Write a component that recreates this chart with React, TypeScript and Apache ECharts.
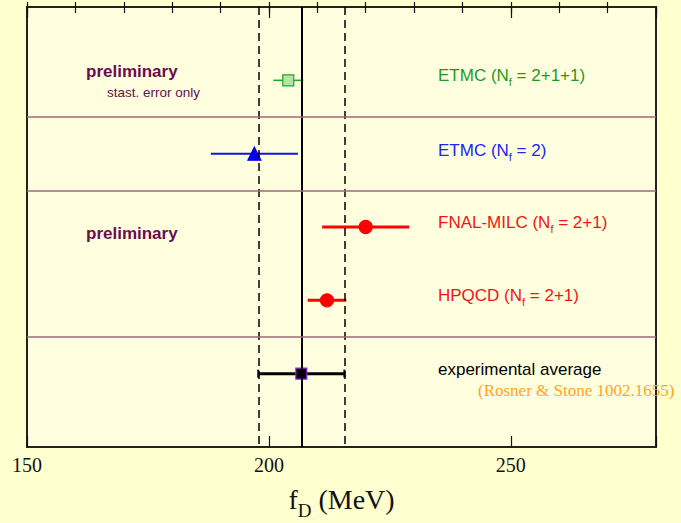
import React, { useEffect, useRef } from "react";
import * as echarts from "echarts";

// ---- data ----
const collaborations = ["ETMC", "ETMC", "FNAL-MILC", "HPQCD", "experimental average"];
const nfValues = ["2+1+1", "2", "2+1", "2+1", ""];
const centralValues = [204.0, 197.0, 220.0, 212.0, 206.7];
const errors = [3.1, 9.0, 9.0, 4.0, 8.9];
const rowPositions = [1, 2, 3, 4, 5];
const separatorRows = [1.5, 2.5, 4.5];
const averageValue = 206.7;
const averageError = 8.9;
const xRange = [150, 280];
const xAxisTitle = ["f", "D", " (MeV)"];
const reference = "(Rosner & Stone 1002.1655)";

// ---- styles (kept apart from the data) ----
const seriesColors = ["#27a127", "#1010f0", "#ff0000", "#ff0000", "#000000"];
const textColors = ["#1e9a1e", "#2323f0", "#f01414", "#f01414", "#000000"];
const barWidths = [1.5, 2, 3, 3, 3];
const hasCaps = [false, false, false, false, true];
const markerSymbols = ["rect", "triangle", "circle", "circle", "rect"];
const markerSizes = [11, 13, 13, 13, 11];
const markerFills = ["#b4e4a8", "#0000ee", "#ff0000", "#ff0000", "#000000"];
const markerBorders = ["#27a127", "#0000ee", "#ff0000", "#ff0000", "#a020e0"];
const labelY = [75.5, 150.5, 222.5, 295.5, 369.5];

const SANS = "Liberation Sans";
const SERIF = "Liberation Serif";

export default function App() {
  const ref = useRef<HTMLDivElement>(null);

  useEffect(() => {
    document.body.style.margin = "0";
    const chart = echarts.init(ref.current!, null, { renderer: "svg" });

    const errorData = centralValues.map((c, i) => [c, c - errors[i], c + errors[i], rowPositions[i]]);

    const tickAxis = (position: "top" | "bottom", interval: number, length: number, labels: boolean) => ({
      type: "value",
      position,
      min: xRange[0],
      max: xRange[1],
      interval,
      axisLine: { show: false },
      splitLine: { show: false },
      axisTick: { show: true, inside: true, length, lineStyle: { color: "#111", width: 1.2 } },
      axisLabel: labels
        ? {
            show: true,
            margin: 8,
            fontFamily: SERIF,
            fontSize: 20,
            color: "#111",
            showMaxLabel: false,
            formatter: (v: number) => (v % 50 === 0 ? String(v) : ""),
          }
        : { show: false },
    });

    const labelGraphics: any[] = collaborations.map((name, i) => {
      const color = textColors[i];
      const text = nfValues[i]
        ? `{m|${name} (N}{s|f}{m| = ${nfValues[i]})}`
        : `{m|${name}}`;
      return {
        type: "text",
        x: 438,
        y: labelY[i],
        style: {
          text,
          fill: color,
          align: "left",
          verticalAlign: "middle",
          rich: {
            m: { fontSize: 17, fontFamily: SANS, fill: color, lineHeight: 20 },
            s: { fontSize: 11, fontFamily: SANS, fill: color, lineHeight: 11, padding: [12, 0, 0, 0] },
          },
        },
      };
    });

    const option: any = {
      animation: false,
      backgroundColor: "#ffffcf",
      grid: {
        left: 27,
        right: 25,
        top: 7,
        bottom: 76,
        show: true,
        containLabel: false,
        outerBoundsMode: "none",
        backgroundColor: "#ffffe0",
        borderColor: "#222",
        borderWidth: 2,
      },
      xAxis: [
        {
          ...tickAxis("bottom", 10, 5, true),
          name: `{a|${xAxisTitle[0]}}{b|${xAxisTitle[1]}}{a|${xAxisTitle[2]}}`,
          nameLocation: "middle",
          nameGap: 31,
          nameTextStyle: {
            rich: {
              a: { fontFamily: SERIF, fontSize: 28, color: "#111", lineHeight: 30 },
              b: { fontFamily: SERIF, fontSize: 19, color: "#111", lineHeight: 19, padding: [21, 0, 0, 0] },
            },
          },
        },
        tickAxis("bottom", 50, 11, false),
        tickAxis("top", 10, 6, false),
        tickAxis("top", 50, 11, false),
      ],
      yAxis: {
        type: "value",
        min: 0,
        max: 6,
        inverse: true,
        show: false,
      },
      graphic: [
        ...labelGraphics,
        {
          type: "text",
          x: 478,
          y: 390,
          style: { text: reference, fill: "#ffa51e", font: `17px "${SERIF}"`, align: "left", verticalAlign: "middle" },
        },
        {
          type: "text",
          x: 86,
          y: 71.5,
          style: { text: "preliminary", fill: "#6b0c4f", font: `bold 17px "${SANS}"`, align: "left", verticalAlign: "middle" },
        },
        {
          type: "text",
          x: 107,
          y: 92.5,
          style: { text: "stast. error only", fill: "#6b0c4f", font: `13.5px "${SANS}"`, align: "left", verticalAlign: "middle" },
        },
        {
          type: "text",
          x: 86,
          y: 233.5,
          style: { text: "preliminary", fill: "#6b0c4f", font: `bold 17px "${SANS}"`, align: "left", verticalAlign: "middle" },
        },
      ],
      series: [
        {
          type: "custom",
          xAxisIndex: 0,
          z: 2,
          data: errorData,
          renderItem: (params: any, api: any) => {
            const i = params.dataIndex;
            const lo = api.coord([api.value(1), api.value(3)]);
            const hi = api.coord([api.value(2), api.value(3)]);
            const style = { stroke: seriesColors[i], lineWidth: barWidths[i] };
            const children: any[] = [
              { type: "line", shape: { x1: lo[0], y1: lo[1], x2: hi[0], y2: hi[1] }, style },
            ];
            if (hasCaps[i]) {
              children.push({ type: "line", shape: { x1: lo[0], y1: lo[1] - 4, x2: lo[0], y2: lo[1] + 4 }, style: { ...style, lineWidth: 2 } });
              children.push({ type: "line", shape: { x1: hi[0], y1: hi[1] - 4, x2: hi[0], y2: hi[1] + 4 }, style: { ...style, lineWidth: 2 } });
            }
            return { type: "group", children };
          },
          markLine: {
            silent: true,
            symbol: "none",
            label: { show: false },
            data: [
              { xAxis: averageValue, lineStyle: { color: "#000", width: 2, type: "solid" } },
              { xAxis: averageValue - averageError, lineStyle: { color: "#000", width: 1.5, type: [8, 5] } },
              { xAxis: averageValue + averageError, lineStyle: { color: "#000", width: 1.5, type: [8, 5] } },
              ...separatorRows.map((r) => ({ yAxis: r, lineStyle: { color: "#9c6a78", width: 1.5, type: "solid" } })),
            ],
          },
        },
        ...centralValues.map((c, i) => ({
          type: "scatter",
          xAxisIndex: 0,
          z: 3,
          symbol: markerSymbols[i],
          symbolSize: markerSizes[i],
          itemStyle: {
            color: markerFills[i],
            borderColor: markerBorders[i],
            borderWidth: 1.2,
            opacity: 1,
            ...(i === 0
              ? {
                  decal: {
                    symbol: "rect",
                    symbolSize: 1,
                    color: "rgba(39,161,39,0.7)",
                    dashArrayX: [1.5, 1.5],
                    dashArrayY: [4, 0],
                    rotation: 0,
                  },
                }
              : {}),
          },
          data: [[c, rowPositions[i]]],
        })),
      ],
    };

    chart.setOption(option);
    return () => chart.dispose();
  }, []);

  return (
    <div
      ref={ref}
      style={{ position: "absolute", left: 0, top: 0, width: 681, height: 523 }}
    />
  );
}
